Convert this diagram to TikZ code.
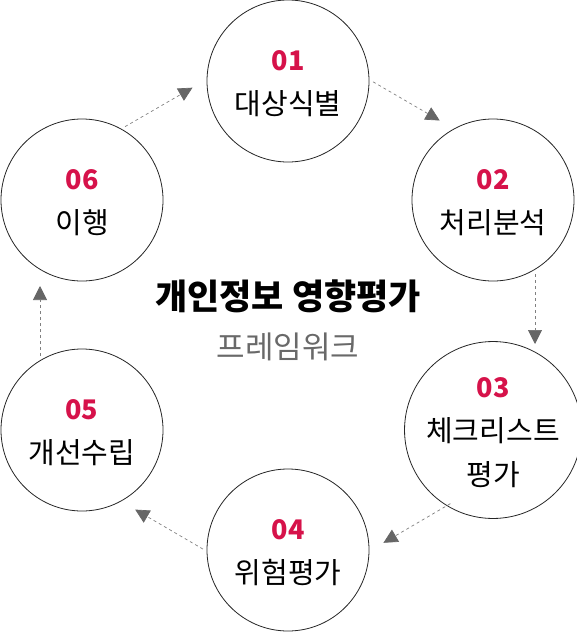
\documentclass[tikz,border=0pt]{standalone}
\usepackage{fontspec}
\newfontfamily\kr{Noto Sans CJK KR}
\usetikzlibrary{arrows.meta,calc,positioning}

\definecolor{stepred}{RGB}{214,18,74}
\definecolor{subgray}{RGB}{105,105,105}

\tikzset{
  stage/.style={circle,draw=black!85,line width=0.8pt,fill=white,minimum size=162pt,
    inner sep=0pt,align=center,font=\kr\fontsize{29pt}{44pt}\selectfont},
  flow/.style={draw=black!50,line width=0.7pt,dash pattern=on 3pt off 3pt,
    -{Triangle[length=14pt,width=14pt,color=black!60]},shorten <=74pt,shorten >=86pt}
}
\newcommand{\stepno}[1]{{\bfseries\color{stepred}\fontsize{27pt}{44pt}\selectfont\rule{0pt}{26pt}#1}}

\begin{document}
\begin{tikzpicture}[x=1pt,y=-1pt]
                \useasboundingbox (0,0) rectangle (576,632);
                \node[stage] (s1) at (288,81) {\stepno{01}\\대상식별};
                \node[stage] (s2) at (493,200) {\stepno{02}\\처리분석};
                \node[stage] (s3) at (493,430) {\stepno{03}\\체크리스트\\평가};
                \node[stage] (s4) at (288,550) {\stepno{04}\\위험평가};
                \node[stage] (s5) at (82,430) {\stepno{05}\\개선수립};
                \node[stage] (s6) at (82,200) {\stepno{06}\\이행};
                \node[font=\kr\bfseries\fontsize{35pt}{40pt}\selectfont] (title) at (288,296) {개인정보 영향평가};
                \node[font=\kr\fontsize{31pt}{36pt}\selectfont,text=subgray] (sub) at (288,347) {프레임워크};
                \draw[flow] ($(s1)!42pt!90:(s2)$) -- ($(s2)!42pt!-90:(s1)$);
                \draw[flow] ($(s2)!42pt!90:(s3)$) -- ($(s3)!42pt!-90:(s2)$);
                \draw[flow] ($(s3)!42pt!90:(s4)$) -- ($(s4)!42pt!-90:(s3)$);
                \draw[flow] ($(s4)!42pt!90:(s5)$) -- ($(s5)!42pt!-90:(s4)$);
                \draw[flow] ($(s5)!42pt!90:(s6)$) -- ($(s6)!42pt!-90:(s5)$);
                \draw[flow] ($(s6)!42pt!90:(s1)$) -- ($(s1)!42pt!-90:(s6)$);
            \end{tikzpicture}
\end{document}
